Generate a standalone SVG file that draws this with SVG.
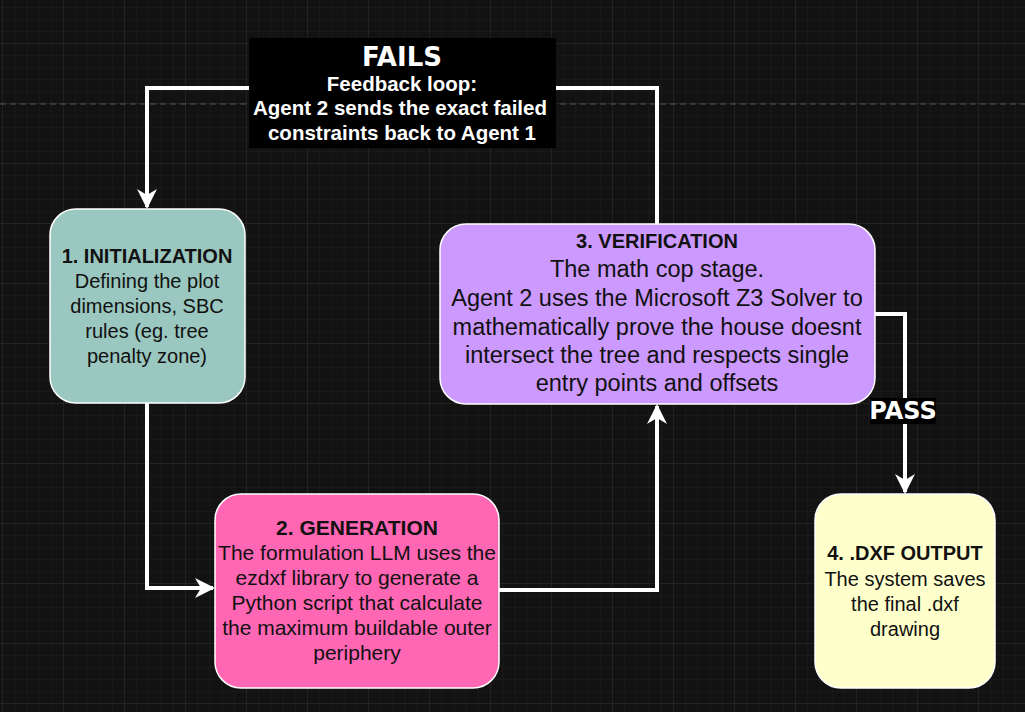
<svg xmlns="http://www.w3.org/2000/svg" width="1025" height="712" viewBox="0 0 1025 712">
<defs>
<pattern id="minor" width="12.2" height="12" patternUnits="userSpaceOnUse" x="2" y="7"><path d="M0 0H12.2M0 0V12" fill="none" stroke="#1f1f1f" stroke-width="1"/></pattern>
<pattern id="major" width="61" height="60" patternUnits="userSpaceOnUse" x="2" y="43"><path d="M0 0H61M0 0V60" fill="none" stroke="#2c2c2c" stroke-width="1"/></pattern>
<marker id="ah" viewBox="0 0 10 10" refX="9" refY="5" markerWidth="5" markerHeight="5" orient="auto" markerUnits="strokeWidth"><path d="M0 0L10 5L0 10L3 5Z" fill="#fff"/></marker>
<style>
.n{stroke:#fff;stroke-width:1.5}
.t{font-family:"Liberation Sans",Arial,sans-serif;font-size:20px;fill:#111;text-anchor:middle}
.b{font-weight:bold}
.c{fill:none;stroke:#fff;stroke-width:4;marker-end:url(#ah)}
.h{font-family:"Comic Sans MS","DejaVu Sans",sans-serif;font-weight:bold;fill:#fff;text-anchor:middle}
.w{fill:#fff;font-size:20.5px}
.m{font-size:21px}
.l{font-size:23.5px}
</style>
</defs>
<rect width="1025" height="712" fill="#121212"/>
<rect width="1025" height="712" fill="url(#minor)"/>
<rect width="1025" height="712" fill="url(#major)"/>
<line x1="0" y1="104" x2="1025" y2="104" stroke="#555" stroke-dasharray="6 4"/>
<g id="connectors">
<path class="c" d="M147 403V588H213"/>
<path class="c" d="M499 590H657V406"/>
<path class="c" d="M657 224V88H147V207"/>
<path class="c" d="M875 314H905V492"/>
</g>
<g id="fails-label">
<rect x="249" y="38" width="307" height="110" fill="#000"/>
<text class="h" x="402" y="66" font-size="26">FAILS</text>
<text class="t b w" x="402" y="91">Feedback loop:</text>
<text class="t b w" x="400" y="115">Agent 2 sends the exact failed</text>
<text class="t b w" x="402" y="140">constraints back to Agent 1</text>
</g>
<g id="pass-label">
<rect x="870" y="398" width="66" height="26" fill="#000"/>
<text class="h" x="903" y="419" font-size="24">PASS</text>
</g>
<g id="n1">
<rect class="n" x="50" y="209" width="195" height="194" rx="26" fill="#9AC7BF"/>
<text class="t b" x="147" y="263">1. INITIALIZATION</text>
<text class="t" x="147" y="288">Defining the plot</text>
<text class="t" x="147" y="313">dimensions, SBC</text>
<text class="t" x="147" y="338">rules (eg. tree</text>
<text class="t" x="147" y="363">penalty zone)</text>
</g>
<g id="n2">
<rect class="n" x="215" y="494" width="284" height="194" rx="26" fill="#FF66B3"/>
<text class="t b m" x="357" y="535">2. GENERATION</text>
<text class="t m" x="357" y="560">The formulation LLM uses the</text>
<text class="t m" x="357" y="585">ezdxf library to generate a</text>
<text class="t m" x="357" y="610">Python script that calculate</text>
<text class="t m" x="357" y="635">the maximum buildable outer</text>
<text class="t m" x="357" y="660">periphery</text>
</g>
<g id="n3">
<rect class="n" x="440" y="224" width="435" height="180" rx="26" fill="#CC99FF"/>
<text class="t b" x="657" y="248">3. VERIFICATION</text>
<text class="t l" x="657" y="277">The math cop stage.</text>
<text class="t l" x="657" y="306">Agent 2 uses the Microsoft Z3 Solver to</text>
<text class="t l" x="657" y="335">mathematically prove the house doesnt</text>
<text class="t l" x="657" y="363">intersect the tree and respects single</text>
<text class="t l" x="657" y="391">entry points and offsets</text>
</g>
<g id="n4">
<rect class="n" x="815" y="494" width="180" height="194" rx="26" fill="#FFFFCC"/>
<text class="t b" x="905" y="560">4. .DXF OUTPUT</text>
<text class="t" x="905" y="586">The system saves</text>
<text class="t" x="905" y="611">the final .dxf</text>
<text class="t" x="905" y="636">drawing</text>
</g>
</svg>
